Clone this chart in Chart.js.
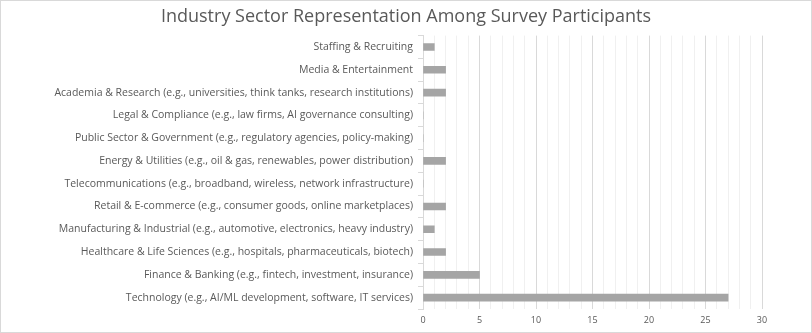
<!DOCTYPE html>
<html>
<head>
<meta charset="utf-8">
<script src="https://cdn.jsdelivr.net/npm/chart.js@4"></script>
<style>
  html, body { margin: 0; padding: 0; background: #fff; }
  #wrap { position: relative; width: 812px; height: 333px; }
  #frame { position: absolute; left: 0; top: 0; width: 810px; height: 331px; border: 1px solid #d9d9d9; pointer-events: none; }
</style>
</head>
<body>
<div id="wrap">
  <canvas id="chart" width="812" height="333"></canvas>
  <div id="frame"></div>
</div>
<script>
// Data (top to bottom as shown)
const sectors = [
  'Staffing & Recruiting',
  'Media & Entertainment',
  'Academia & Research (e.g., universities, think tanks, research institutions)',
  'Legal & Compliance (e.g., law firms, AI governance consulting)',
  'Public Sector & Government (e.g., regulatory agencies, policy-making)',
  'Energy & Utilities (e.g., oil & gas, renewables, power distribution)',
  'Telecommunications (e.g., broadband, wireless, network infrastructure)',
  'Retail & E-commerce (e.g., consumer goods, online marketplaces)',
  'Manufacturing & Industrial (e.g., automotive, electronics, heavy industry)',
  'Healthcare & Life Sciences (e.g., hospitals, pharmaceuticals, biotech)',
  'Finance & Banking (e.g., fintech, investment, insurance)',
  'Technology (e.g., AI/ML development, software, IT services)'
];
const participants = [1, 2, 2, 0, 0, 2, 0, 2, 1, 2, 5, 27];
const xMax = 30;
const xLabelStep = 5;

const textColor = '#595959';
const fontFamily = "'Open Sans', 'Liberation Sans', sans-serif";

// center the title over the whole canvas, not just the padded area
const centerTitle = {
  id: 'centerTitle',
  afterLayout(chart) {
    if (chart.titleBlock) {
      chart.titleBlock.left = 0;
      chart.titleBlock.right = chart.width;
    }
  }
};

const ctx = document.getElementById('chart').getContext('2d');
new Chart(ctx, {
  type: 'bar',
  data: {
    labels: sectors,
    datasets: [{
      label: 'Participants',
      data: participants,
      backgroundColor: '#a5a5a5',
      barThickness: 7
    }]
  },
  plugins: [centerTitle],
  options: {
    indexAxis: 'y',
    responsive: false,
    animation: false,
    layout: { padding: { left: 0, right: 50, top: 0, bottom: 0 } },
    plugins: {
      legend: { display: false },
      tooltip: { enabled: false },
      title: {
        display: true,
        text: 'Industry Sector Representation Among Survey Participants',
        color: textColor,
        font: { family: fontFamily, size: 18, weight: 'normal' },
        padding: { top: 6, bottom: 8 }
      }
    },
    scales: {
      x: {
        min: 0,
        max: xMax,
        afterFit: s => { s.height = 24; },
        grid: {
          drawTicks: false,
          color: c => (c.tick.value % xLabelStep === 0 ? '#d9d9d9' : '#f0f0f0')
        },
        border: { display: false },
        ticks: {
          stepSize: 1,
          autoSkip: false,
          maxRotation: 0,
          padding: 6,
          color: textColor,
          font: { family: fontFamily, size: 9 },
          callback: v => (v % xLabelStep === 0 ? v : '')
        }
      },
      y: {
        afterFit: s => { s.width = 423; },
        grid: {
          drawOnChartArea: false,
          offset: true,
          tickLength: 5,
          color: '#d9d9d9'
        },
        border: { color: '#d9d9d9' },
        ticks: {
          autoSkip: false,
          padding: 5,
          color: textColor,
          font: { family: fontFamily, size: 10.5 }
        }
      }
    }
  }
});
</script>
</body>
</html>
